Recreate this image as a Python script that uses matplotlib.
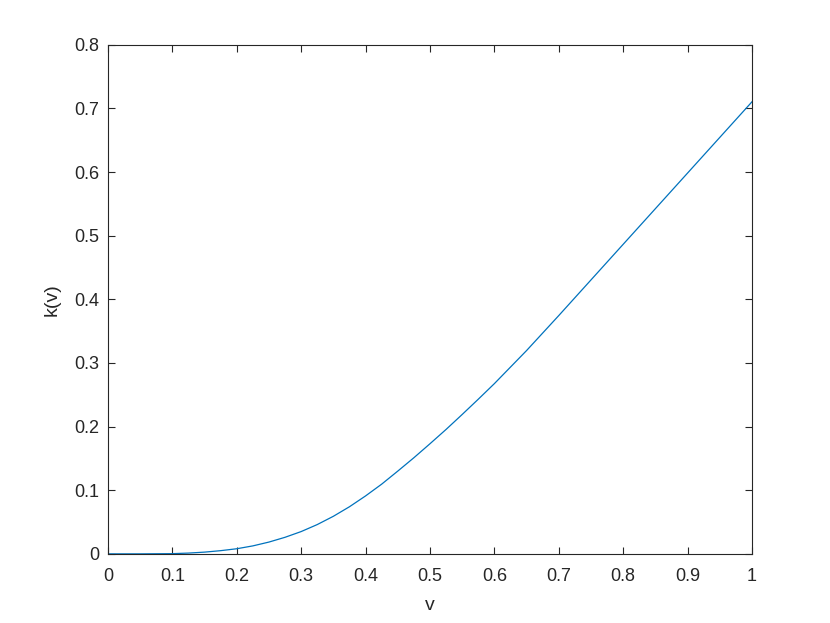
import matplotlib
matplotlib.use('Agg')
import matplotlib.pyplot as plt

# values
v = [0.0, 0.05, 0.1, 0.125, 0.15, 0.175, 0.2, 0.225, 0.25, 0.275, 0.3,
     0.325, 0.35, 0.375, 0.4, 0.425, 0.45, 0.475, 0.5, 0.525,
     0.55, 0.575, 0.6, 0.65, 0.7, 0.75, 0.8, 0.85, 0.9, 0.95, 1.0]
k = [0.0, 0.0, 0.0003, 0.0012, 0.0027, 0.005, 0.008, 0.0125, 0.0185, 0.026, 0.035,
     0.046, 0.059, 0.074, 0.091, 0.1095, 0.130, 0.151, 0.173, 0.1955,
     0.219, 0.243, 0.2675, 0.3195, 0.3745, 0.4305, 0.4865, 0.5425, 0.5985, 0.6545, 0.7105]

xticks = [0, 0.1, 0.2, 0.3, 0.4, 0.5, 0.6, 0.7, 0.8, 0.9, 1]
yticks = [0, 0.1, 0.2, 0.3, 0.4, 0.5, 0.6, 0.7, 0.8]

plt.rcParams['font.family'] = ['Liberation Sans', 'DejaVu Sans']

fig = plt.figure(figsize=(8.3, 6.23), dpi=100)
ax = fig.add_axes([0.13, 0.111, 0.776, 0.817])
ax.plot(v, k, color='#0072BD', linewidth=0.9)

ax.set_xlim(0, 1)
ax.set_ylim(0, 0.8)
ax.set_xticks(xticks)
ax.set_yticks(yticks)
ax.set_xticklabels(['0', '0.1', '0.2', '0.3', '0.4', '0.5', '0.6', '0.7', '0.8', '0.9', '1'])
ax.set_yticklabels(['0', '0.1', '0.2', '0.3', '0.4', '0.5', '0.6', '0.7', '0.8'])
ax.tick_params(direction='in', length=5, width=0.8, top=True, right=True,
               labelsize=13, colors='#262626')
ax.tick_params(axis='x', pad=10)
ax.tick_params(axis='y', pad=6)
for s in ax.spines.values():
    s.set_color('#262626')
    s.set_linewidth(0.8)

ax.set_xlabel('v', fontsize=14, color='#262626', labelpad=9)
ax.set_ylabel('k(v)', fontsize=14, color='#262626', labelpad=10)

fig.savefig('out.png', dpi=100)
